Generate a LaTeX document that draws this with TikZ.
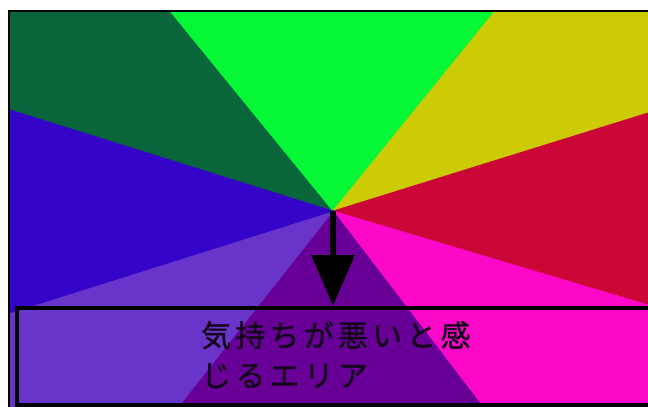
\documentclass[tikz,border=0pt]{standalone}
\usepackage{fontspec}
\newfontfamily\cjkfont[LetterSpace=14, FakeBold=1.2]{Noto Sans CJK JP}
\usetikzlibrary{arrows.meta,calc}
\definecolor{cDkGreen}{HTML}{09663A}
\definecolor{cGreen}{HTML}{05F736}
\definecolor{cYellow}{HTML}{CDCA06}
\definecolor{cRed}{HTML}{CA0736}
\definecolor{cMagenta}{HTML}{FB08C9}
\definecolor{cDkPurple}{HTML}{680098}
\definecolor{cLtPurple}{HTML}{6934C9}
\definecolor{cBlue}{HTML}{3404C8}
\definecolor{cText}{HTML}{14061A}
\tikzset{
  wedge/.style={fill=#1, draw=#1, line width=0.6pt},
  frameline/.style={draw=black, line width=2pt},
  boxline/.style={draw=black, line width=4pt},
  arrowline/.style={draw=black, line width=6pt, -{Triangle[width=42pt,length=51pt]}},
  label/.style={font=\cjkfont\fontsize{30pt}{40pt}\selectfont, text=cText, inner sep=0pt, align=left}
}
\begin{document}
\begin{tikzpicture}[x=1pt,y=-1pt]
\useasboundingbox (0,0) rectangle (648,407);
\fill[white] (0,0) rectangle (648,407);
\coordinate (C) at (333,211);
\begin{scope}
  \clip (9,11) rectangle (652,409);
  \fill[wedge=cDkGreen]  (C) -- +(-162.6:900) -- +(-129.2:900) -- cycle;
  \fill[wedge=cGreen]    (C) -- +(-129.2:900) -- +(-90:900) -- +(-51.0:900) -- cycle;
  \fill[wedge=cYellow]   (C) -- +(-51.0:900) -- +(-17.3:900) -- cycle;
  \fill[wedge=cRed]      (C) -- +(-17.3:900) -- +(16.6:900) -- cycle;
  \fill[wedge=cMagenta]  (C) -- +(16.6:900) -- +(52.6:900) -- cycle;
  \fill[wedge=cDkPurple] (C) -- +(52.6:900) -- +(90:900) -- +(128.3:900) -- cycle;
  \fill[wedge=cLtPurple] (C) -- +(128.3:900) -- +(162.5:900) -- cycle;
  \fill[wedge=cBlue]     (C) -- +(162.5:900) -- +(197.4:900) -- cycle;
\end{scope}
% outer frame
\coordinate (FTL) at (9,10.5);
\coordinate (FTR) at (650,10.5);
\coordinate (FBL) at (9,409);
\draw[frameline] (FBL) -- (FTL) -- (FTR);
% box
\coordinate (BTL) at (17,308);
\coordinate (BBR) at (652,405);
\coordinate (BT) at (333,306);
\draw[boxline] (BTL) rectangle (BBR);
% arrow
\draw[arrowline] (C) -- (BT);
% label
\node[label, anchor=north west] (txt) at (201,321) {気持ちが悪いと感\\じるエリア};
\end{tikzpicture}
\end{document}
